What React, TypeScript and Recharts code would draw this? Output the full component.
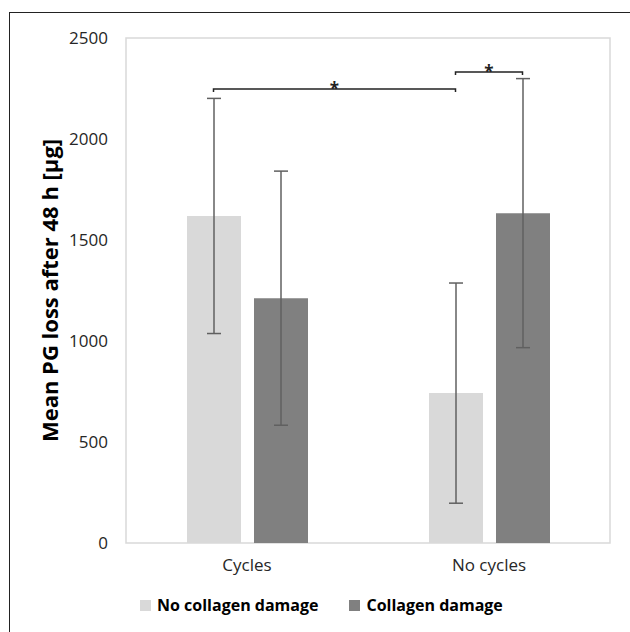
import React from 'react';
import { BarChart, Bar, XAxis, YAxis, ErrorBar, ReferenceLine, ReferenceArea, Legend } from 'recharts';

const categories = ['Cycles', 'No cycles'];
const seriesNames = ['No collagen damage', 'Collagen damage'];
const noDamage = [1619, 742];
const noDamageSd = [582, 545];
const damage = [1212, 1633];
const damageSd = [629, 666];
const yTicks = [0, 500, 1000, 1500, 2000, 2500];

// significance brackets: from/to = [category, series index], height in µg
const brackets = [
  { from: ['Cycles', 0], to: ['No cycles', 0], y: 2248 },
  { from: ['No cycles', 0], to: ['No cycles', 1], y: 2332 },
];

const FONT = '"Open Sans", sans-serif';
const BAR = 54;
const GAP = 13;
// bar centre sits half a bar + half a gap from the category centre
const HALF = (BAR + GAP) / 2;

const data = categories.map((name, i) => ({
  name,
  noDamage: noDamage[i],
  noDamageSd: noDamageSd[i],
  damage: damage[i],
  damageSd: damageSd[i],
}));

const makeBracket = (s1: number, s2: number) => (props: any) => {
  const { x1: a, y1, x2: b } = props;
  const x1 = a + (s1 === 0 ? -HALF : HALF);
  const x2 = b + (s2 === 0 ? -HALF : HALF);
  return (
    <g>
      <path d={`M${x1},${y1 + 3}V${y1}H${x2}V${y1 + 3}`} stroke="#222" strokeWidth={1.5} fill="none" />
      <text x={(x1 + x2) / 2} y={y1 + 6} textAnchor="middle" fontSize={17} fontWeight={700} fontFamily={FONT} fill="#222">
        *
      </text>
    </g>
  );
};

const LegendContent = (props: any) => {
  const { payload = [] } = props;
  const items = seriesNames.map((n) => payload.find((p: any) => p.value === n)).filter(Boolean);
  return (
    <div style={{ display: 'flex', alignItems: 'center', paddingLeft: 140, fontFamily: FONT }}>
      {items.map((p: any, i: number) => (
        <div key={p.value} style={{ display: 'flex', alignItems: 'center', marginRight: i === 0 ? 31 : 0 }}>
          <span style={{ width: 11, height: 11, background: p.color, display: 'inline-block', marginRight: 6 }} />
          <span style={{ fontSize: 16, fontWeight: 700, color: '#000' }}>{p.value}</span>
        </div>
      ))}
    </div>
  );
};

export default function App() {
  return (
    <div style={{ position: 'absolute', left: 0, top: 0, width: 630, height: 632, overflow: 'hidden', background: '#fff' }}>
      <div
        style={{
          position: 'absolute',
          left: 9,
          top: 12,
          width: 700,
          height: 700,
          borderTop: '1.5px solid #222',
          borderLeft: '1.5px solid #222',
        }}
      />
      <div style={{ position: 'absolute', left: 0, top: 0 }}>
        <BarChart
          width={630}
          height={632}
          data={data}
          margin={{ top: 38, right: 20, bottom: 0, left: 0 }}
          barSize={BAR}
          barGap={GAP}
        >
          <XAxis
            dataKey="name"
            axisLine={false}
            tickLine={false}
            tickSize={0}
            tickMargin={16}
            height={89}
            tick={{ fontSize: 17, fill: '#262626', fontFamily: FONT }}
          />
          <YAxis
            domain={[0, 2500]}
            ticks={yTicks}
            width={126}
            axisLine={false}
            tickLine={false}
            tickSize={0}
            tickMargin={18}
            tick={{ fontSize: 17, fill: '#262626', fontFamily: FONT }}
            label={{
              value: 'Mean PG loss after 48 h [μg]',
              angle: -90,
              position: 'insideLeft',
              offset: 50,
              style: { textAnchor: 'middle', fontSize: 22, fontWeight: 700, fill: '#000', fontFamily: FONT },
            }}
          />
          <ReferenceArea y1={0} y2={2500} fill="none" stroke="#d9d9d9" strokeWidth={1.5} ifOverflow="visible" />
          <Bar dataKey="noDamage" name={seriesNames[0]} fill="#d9d9d9" isAnimationActive={false}>
            <ErrorBar dataKey="noDamageSd" width={7} stroke="#606060" strokeWidth={1.5} />
          </Bar>
          <Bar dataKey="damage" name={seriesNames[1]} fill="#808080" isAnimationActive={false}>
            <ErrorBar dataKey="damageSd" width={7} stroke="#606060" strokeWidth={1.5} />
          </Bar>
          {brackets.map((b, i) => (
            <ReferenceLine
              key={i}
              segment={[
                { x: b.from[0], y: b.y },
                { x: b.to[0], y: b.y },
              ]}
              shape={makeBracket(b.from[1] as number, b.to[1] as number)}
              ifOverflow="visible"
            />
          ))}
          <Legend
            layout="horizontal"
            verticalAlign="middle"
            content={LegendContent}
            wrapperStyle={{ position: 'absolute', top: 594, left: 0, width: 630, height: 26 }}
          />
        </BarChart>
      </div>
    </div>
  );
}
